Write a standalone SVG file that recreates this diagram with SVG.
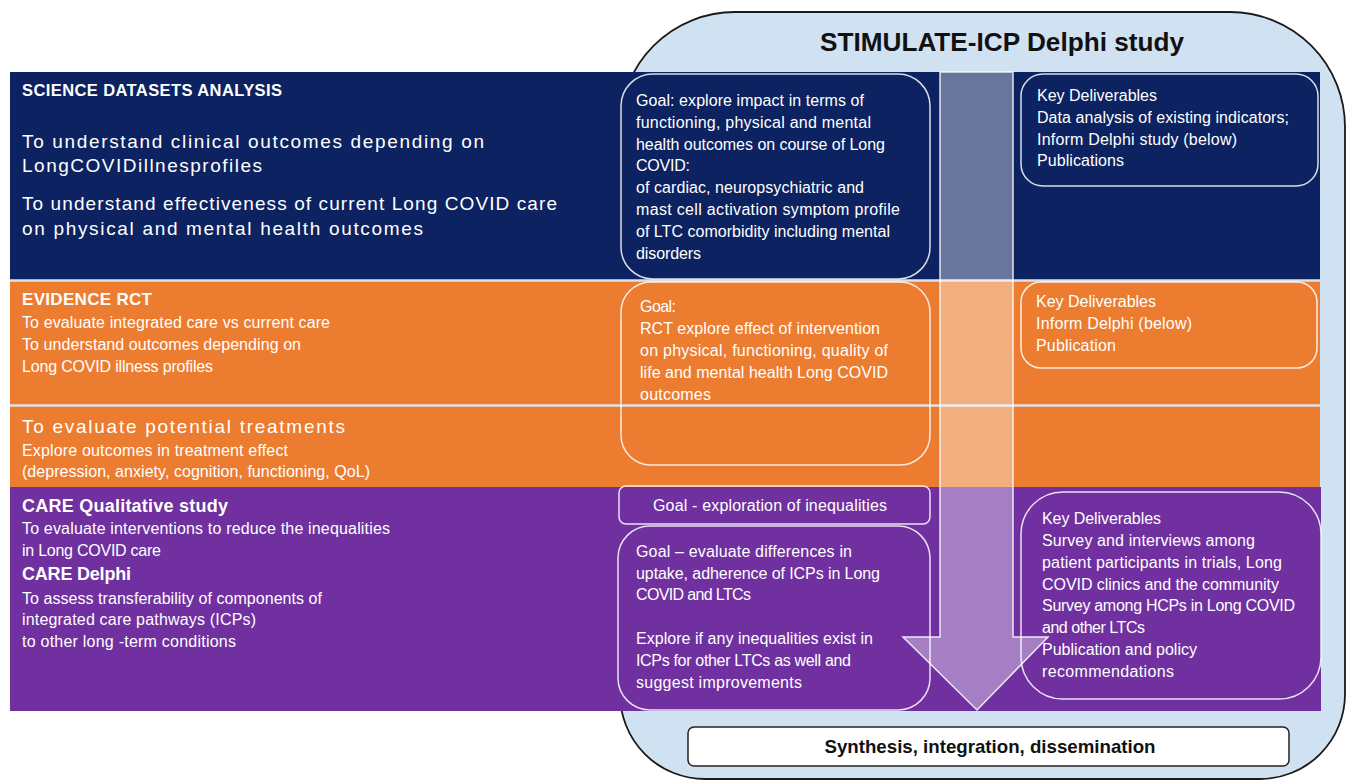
<svg xmlns="http://www.w3.org/2000/svg" width="1349" height="781" viewBox="0 0 1349 781">
<defs>
<style>
text { font-family: "Liberation Sans", Arial, sans-serif; }
.w { fill: #ffffff; font-size: 16px; }
.wb { fill: #ffffff; font-weight: bold; }
.big { fill: #ffffff; font-size: 19px; }
.box { fill: none; stroke: #ffffff; stroke-opacity: 0.85; stroke-width: 1.5; }
.sep { stroke: #dde2ea; stroke-width: 2.5; }
</style>
</defs>
<rect x="0" y="0" width="1349" height="781" fill="#ffffff"/>
<g id="outer">
<path d="M 735 12 H 1230 A 115 115 0 0 1 1345 127 V 694 A 85 85 0 0 1 1260 779 H 705 A 85 85 0 0 1 620 694 V 127 A 115 115 0 0 1 735 12 Z" fill="#d0e1f2" stroke="#1a1a1a" stroke-width="1.8"/>
<text x="1002" y="51" font-size="26.5" font-weight="bold" fill="#111111" text-anchor="middle" textLength="364" lengthAdjust="spacingAndGlyphs">STIMULATE-ICP Delphi study</text>
</g>
<g id="bands">
<rect x="10" y="72" width="1310" height="208" fill="#0d2260"/>
<rect x="10" y="281" width="1310" height="124" fill="#ec7c30"/>
<rect x="10" y="406" width="1310" height="81" fill="#ec7c30"/>
<rect x="10" y="487" width="1311" height="224" fill="#7030a0"/>
<line class="sep" x1="10" y1="280.5" x2="1320" y2="280.5"/>
<line class="sep" x1="10" y1="405.5" x2="1320" y2="405.5"/>
</g>
<g id="science">
<text class="wb" x="22" y="96" font-size="16.5" textLength="260">SCIENCE DATASETS ANALYSIS</text>
<text class="big" x="22" y="148" textLength="462">To understand clinical outcomes depending on</text>
<text class="big" x="22" y="172" textLength="240">LongCOVIDillnesprofiles</text>
<text class="big" x="22" y="210" textLength="535">To understand effectiveness of current Long COVID care</text>
<text class="big" x="22" y="235" textLength="401">on physical and mental health outcomes</text>
</g>
<g id="evidence">
<text class="wb" x="22" y="305" font-size="17" textLength="130">EVIDENCE RCT</text>
<text class="w" x="22" y="328" textLength="308">To evaluate integrated care vs current care</text>
<text class="w" x="22" y="350" textLength="279">To understand outcomes depending on</text>
<text class="w" x="22" y="372" textLength="191">Long COVID illness profiles</text>
</g>
<g id="treatments">
<text class="big" x="22" y="433" textLength="323">To evaluate potential treatments</text>
<text class="w" x="22" y="456" textLength="266">Explore outcomes in treatment effect</text>
<text class="w" x="22" y="477" textLength="348">(depression, anxiety, cognition, functioning, QoL)</text>
</g>
<g id="care">
<text class="wb" x="22" y="512" font-size="18" textLength="206">CARE Qualitative study</text>
<text class="w" x="22" y="534" textLength="368">To evaluate interventions to reduce the inequalities</text>
<text class="w" x="22" y="556" textLength="139">in Long COVID care</text>
<text class="wb" x="22" y="580" font-size="18" textLength="109">CARE Delphi</text>
<text class="w" x="22" y="604" textLength="300">To assess transferability of components of</text>
<text class="w" x="22" y="625" textLength="234">integrated care pathways (ICPs)</text>
<text class="w" x="22" y="647" textLength="214">to other long -term conditions</text>
</g>
<g id="goal-science">
<rect class="box" x="621" y="74" width="309" height="205" rx="32"/>
<text class="w" x="636" y="106" textLength="228">Goal: explore impact in terms of</text>
<text class="w" x="636" y="128" textLength="235">functioning, physical and mental</text>
<text class="w" x="636" y="150" textLength="249">health outcomes on course of Long</text>
<text class="w" x="636" y="171" textLength="54">COVID:</text>
<text class="w" x="636" y="193" textLength="228">of cardiac, neuropsychiatric and</text>
<text class="w" x="636" y="215" textLength="264">mast cell activation symptom profile</text>
<text class="w" x="636" y="237" textLength="254">of LTC comorbidity including mental</text>
<text class="w" x="636" y="259" textLength="65">disorders</text>
</g>
<g id="kd-science">
<rect class="box" x="1021" y="74" width="297" height="112" rx="22"/>
<text class="w" x="1037" y="101" textLength="120">Key Deliverables</text>
<text class="w" x="1037" y="123" textLength="252">Data analysis of existing indicators;</text>
<text class="w" x="1037" y="145" textLength="200">Inform Delphi study (below)</text>
<text class="w" x="1037" y="166" textLength="87">Publications</text>
</g>
<g id="goal-evidence">
<rect class="box" x="621" y="282" width="309" height="183" rx="30"/>
<text class="w" x="640" y="312" textLength="36">Goal:</text>
<text class="w" x="640" y="334" textLength="240">RCT explore effect of intervention</text>
<text class="w" x="640" y="356" textLength="248">on physical, functioning, quality of</text>
<text class="w" x="640" y="378" textLength="248">life and mental health Long COVID</text>
<text class="w" x="640" y="400" textLength="71">outcomes</text>
</g>
<g id="kd-evidence">
<rect class="box" x="1021" y="282" width="296" height="86" rx="20"/>
<text class="w" x="1036" y="307" textLength="120">Key Deliverables</text>
<text class="w" x="1036" y="329" textLength="156">Inform Delphi (below)</text>
<text class="w" x="1036" y="351" textLength="80">Publication</text>
</g>
<g id="goal-inequalities">
<rect class="box" x="619" y="486" width="311" height="38" rx="7"/>
<text class="w" x="770" y="511" text-anchor="middle" textLength="234">Goal - exploration of inequalities</text>
</g>
<g id="goal-care">
<rect class="box" x="618" y="526" width="312" height="184" rx="32"/>
<text class="w" x="636" y="557" textLength="216">Goal – evaluate differences in</text>
<text class="w" x="636" y="579" textLength="244">uptake, adherence of ICPs in Long</text>
<text class="w" x="636" y="600" textLength="115">COVID and LTCs</text>
<text class="w" x="636" y="644" textLength="237">Explore if any inequalities exist in</text>
<text class="w" x="636" y="666" textLength="215">ICPs for other LTCs as well and</text>
<text class="w" x="636" y="688" textLength="166">suggest improvements</text>
</g>
<g id="kd-care">
<rect class="box" x="1021" y="492" width="300" height="207" rx="42"/>
<text class="w" x="1042" y="524" textLength="119">Key Deliverables</text>
<text class="w" x="1042" y="546" textLength="213">Survey and interviews among</text>
<text class="w" x="1042" y="568" textLength="240">patient participants in trials, Long</text>
<text class="w" x="1042" y="590" textLength="237">COVID clinics and the community</text>
<text class="w" x="1042" y="611" textLength="253">Survey among HCPs in Long COVID</text>
<text class="w" x="1042" y="633" textLength="103">and other LTCs</text>
<text class="w" x="1042" y="655" textLength="155">Publication and policy</text>
<text class="w" x="1042" y="677" textLength="132">recommendations</text>
</g>
<g id="connectors">
<polygon points="940,72 1013,72 1013,637 1048,637 977,710 903,637 940,637" fill="#ffffff" fill-opacity="0.38" stroke="#ffffff" stroke-opacity="0.85" stroke-width="1.5"/>
</g>
<g id="synthesis">
<rect x="688" y="727" width="601" height="39" rx="6" fill="#ffffff" stroke="#222222" stroke-width="1.5"/>
<text x="990" y="753" font-size="18.5" font-weight="bold" fill="#111111" text-anchor="middle" textLength="331" lengthAdjust="spacingAndGlyphs">Synthesis, integration, dissemination</text>
</g>
</svg>
